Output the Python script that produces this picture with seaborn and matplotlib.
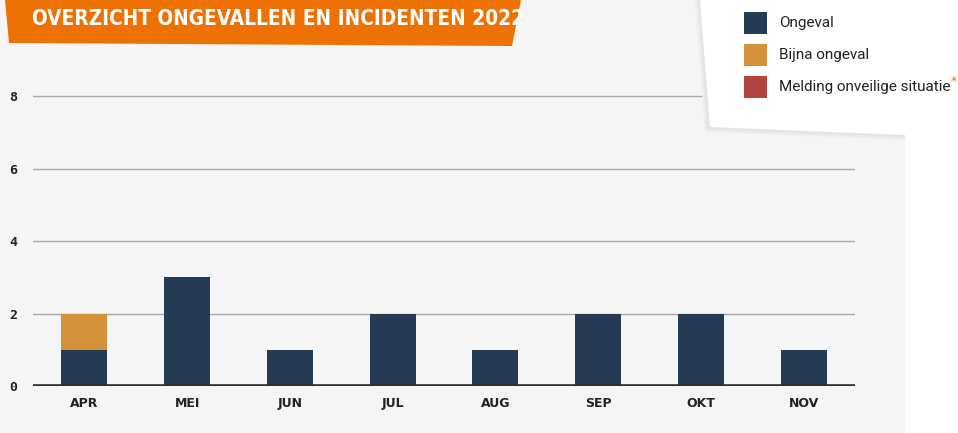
import matplotlib
matplotlib.use("Agg")
import matplotlib.pyplot as plt
import seaborn as sns
import pandas as pd
from matplotlib.patches import Polygon, Rectangle

months = ["APR", "MEI", "JUN", "JUL", "AUG", "SEP", "OKT", "NOV"]
ongeval = [1, 3, 1, 2, 1, 2, 2, 1]
bijna_ongeval = [1, 0, 0, 0, 0, 0, 0, 0]
melding = [0, 0, 0, 0, 0, 0, 0, 0]
series_names = ["Ongeval", "Bijna ongeval", "Melding onveilige situatie"]
yticks = [0, 2, 4, 6, 8]
title = "OVERZICHT ONGEVALLEN EN INCIDENTEN 2022"

c_navy = "#253B53"
c_orange = "#D4913A"
c_red = "#B5433D"
bg = "#F5F5F5"

sns.set_theme(style="white")
W, H = 958, 433
fig = plt.figure(figsize=(W / 100, H / 100), dpi=100, facecolor="white")
fig.patches.append(Rectangle((0, 0), 905 / W, 1, transform=fig.transFigure,
                             facecolor=bg, edgecolor="none", zorder=-10))

ax = fig.add_axes([33 / W, 47 / H, (855 - 33) / W, 326 / H])
ax.set_facecolor("none")

df = pd.DataFrame({"month": months,
                   "o": ongeval,
                   "ob": [a + b for a, b in zip(ongeval, bijna_ongeval)],
                   "obm": [a + b + c for a, b, c in zip(ongeval, bijna_ongeval, melding)]})

for col, c in [("obm", c_red), ("ob", c_orange), ("o", c_navy)]:
    sns.barplot(data=df, x="month", y=col, color=c, saturation=1, width=0.45,
                ax=ax, zorder=3, linewidth=0, edgecolor="none")

ax.set_xlim(-0.5, len(months) - 0.5)
ax.set_ylim(0, 9)
ax.set_yticks(yticks)
for y in yticks[1:]:
    ax.axhline(y, color="#A8A8A8", lw=1, zorder=1)
ax.axhline(0, color="#2E2E2E", lw=2.6, zorder=4)
for s in ax.spines.values():
    s.set_visible(False)
ax.set_xlabel("")
ax.set_ylabel("")
ax.tick_params(axis="y", length=0, pad=14.4)
ax.tick_params(axis="x", length=0, pad=8)
for lab in ax.get_yticklabels():
    lab.set_fontfamily("DejaVu Sans Mono")
    lab.set_fontweight("bold")
    lab.set_fontsize(9.5)
    lab.set_color("#222222")
    lab.set_horizontalalignment("center")
for lab in ax.get_xticklabels():
    lab.set_fontfamily("DejaVu Sans")
    lab.set_fontweight("bold")
    lab.set_fontsize(9)
    lab.set_color("#222222")

def px(x, y):
    return (x / W, 1 - y / H)

# title banner
banner = Polygon([px(5, 0), px(9, 43), px(512, 46), px(521, 0)], closed=True,
                 transform=fig.transFigure, facecolor="#EE7203", edgecolor="none", zorder=5)
fig.patches.append(banner)
tt = fig.text(32 / W, 1 - 25 / H, title, transform=fig.transFigure, fontsize=26,
              family="DejaVu Sans", fontstretch="condensed", fontweight="bold",
              color="white", ha="left", va="baseline", zorder=6)
fig.canvas.draw()
r = fig.canvas.get_renderer()
w = tt.get_window_extent(r).width
tt.set_fontsize(26 * min(1.0, 490 / w))

# legend card with soft shadow
for k, col in enumerate(["#EFEFEF", "#E9E9E9", "#E4E4E4"]):
    d = 5 - 1.5 * k
    fig.patches.append(Polygon([px(700 - d, 0), px(710 - d, 127 + d), px(905, 135 + d), px(905, 0)],
                               closed=True, transform=fig.transFigure, facecolor=col,
                               edgecolor="none", zorder=5))
card = Polygon([px(700, 0), px(710, 127), px(905, 135), px(905, 0)], closed=True,
               transform=fig.transFigure, facecolor="white", edgecolor="none", zorder=6)
fig.patches.append(card)
for i, (name, col) in enumerate(zip(series_names, [c_navy, c_orange, c_red])):
    y0 = 12 + i * 32
    fig.patches.append(Rectangle(px(744, y0 + 22), 23 / W, 22 / H, transform=fig.transFigure,
                                 facecolor=col, edgecolor="none", zorder=7))
    t = fig.text(779 / W, 1 - (y0 + 11) / H, name, transform=fig.transFigure,
                 fontsize=11, family=["Roboto", "DejaVu Sans"], color="#222222",
                 ha="left", va="center", zorder=8)
    if i == 2:
        fig.canvas.draw()
        bb = t.get_window_extent()
        fig.text(bb.x1 / W, 1 - (y0 + 6) / H, "*", transform=fig.transFigure,
                 fontsize=9, color="#EE7203", ha="left", va="center", zorder=8)

fig.savefig("out.png", dpi=100, facecolor="white")
